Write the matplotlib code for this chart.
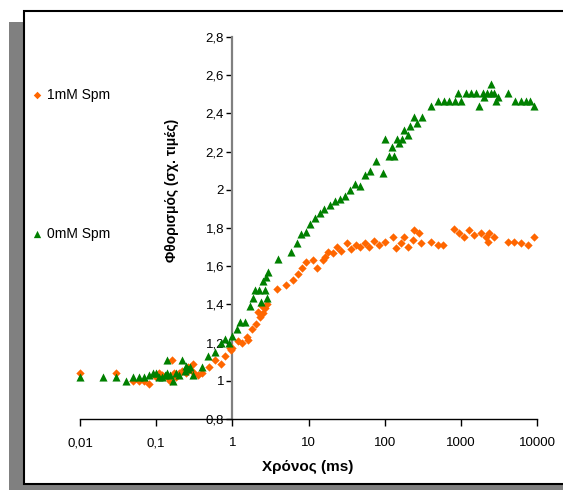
import matplotlib
matplotlib.use("Agg")
import matplotlib.pyplot as plt
from matplotlib.patches import Rectangle
from matplotlib.ticker import FixedLocator, FixedFormatter, NullLocator

plt.rcParams['font.family'] = ['Liberation Sans', 'DejaVu Sans']

# ---- data ----
# 1mM Spm (orange diamonds)
x_1mM = [0.01, 0.03, 0.05, 0.06, 0.07, 0.08, 0.1, 0.11, 0.12, 0.14, 0.15, 0.16,
         0.17, 0.18, 0.2, 0.22, 0.25, 0.26, 0.28, 0.3, 0.31, 0.35, 0.4, 0.5,
         0.6, 0.72, 0.81, 0.94, 0.97, 1.0, 1.2, 1.35, 1.57, 1.62, 1.83, 2.07,
         2.2, 2.34, 2.48, 2.56, 2.72, 2.89, 3.9, 5.1, 6.2, 7.2, 8.1, 9.4, 11.6,
         13.1, 15.7, 16.7, 18.3, 21, 24, 27, 32, 36, 42, 48, 55, 63, 72, 84,
         102, 127, 140, 163, 178, 200, 233, 240, 280, 297, 403, 498, 580, 809,
         942, 1096, 1274, 1480, 1830, 2130, 2266, 2340, 2717, 4150, 4980,
         6160, 7600, 9120]
y_1mM = [1.04, 1.04, 1.0, 1.0, 1.0, 0.985, 1.02, 1.04, 1.03, 1.02, 1.0, 1.11,
         1.04, 1.02, 1.04, 1.05, 1.04, 1.07, 1.06, 1.09, 1.04, 1.03, 1.04, 1.07,
         1.11, 1.09, 1.13, 1.17, 1.16, 1.17, 1.21, 1.20, 1.23, 1.215, 1.27, 1.30,
         1.36, 1.335, 1.39, 1.355, 1.38, 1.40, 1.48, 1.50, 1.53, 1.56, 1.59, 1.62,
         1.63, 1.59, 1.63, 1.65, 1.675, 1.67, 1.70, 1.68, 1.72, 1.69, 1.71, 1.70,
         1.72, 1.70, 1.73, 1.71, 1.728, 1.754, 1.696, 1.72, 1.754, 1.70, 1.738,
         1.79, 1.775, 1.72, 1.728, 1.71, 1.71, 1.796, 1.775, 1.754, 1.79, 1.764,
         1.775, 1.754, 1.728, 1.775, 1.754, 1.728, 1.728, 1.72, 1.71, 1.754]

# 0mM Spm (green triangles)
x_0mM = [0.01, 0.02, 0.03, 0.04, 0.05, 0.06, 0.07, 0.08, 0.09, 0.1, 0.11, 0.12,
         0.13, 0.14, 0.14, 0.15, 0.167, 0.18, 0.2, 0.22, 0.24, 0.25, 0.26, 0.28,
         0.3, 0.40, 0.48, 0.6, 0.72, 0.81, 0.91, 1.0, 1.16, 1.27, 1.48, 1.72,
         1.89, 2.0, 2.27, 2.41, 2.56, 2.72, 2.8, 2.89, 2.98, 4.03, 5.97, 7.0, 8.0,
         9.2, 10.5, 12, 14, 16, 19, 22, 26, 30, 35, 41, 48, 56, 65, 76, 94, 102,
         113, 123, 131, 144, 153, 167, 178, 200, 213, 240, 264, 307, 403, 498,
         597, 694, 834, 912, 1000, 1163, 1352, 1574, 1726, 1950, 2000, 2200,
         2480, 2480, 2720, 2890, 3070, 4150, 5130, 6160, 7160, 8090, 9120]
y_0mM = [1.02, 1.02, 1.02, 1.0, 1.02, 1.02, 1.02, 1.03, 1.04, 1.04, 1.02, 1.02,
         1.03, 1.11, 1.04, 1.03, 1.0, 1.04, 1.03, 1.11, 1.05, 1.08, 1.06, 1.07,
         1.03, 1.07, 1.13, 1.15, 1.20, 1.22, 1.20, 1.235, 1.27, 1.31, 1.31, 1.39,
         1.435, 1.475, 1.475, 1.41, 1.52, 1.475, 1.545, 1.435, 1.57, 1.64, 1.675,
         1.72, 1.77, 1.78, 1.82, 1.85, 1.88, 1.90, 1.92, 1.94, 1.95, 1.97, 2.0,
         2.03, 2.02, 2.08, 2.10, 2.15, 2.09, 2.267, 2.178, 2.225, 2.178, 2.267,
         2.246, 2.267, 2.314, 2.288, 2.335, 2.382, 2.35, 2.382, 2.44, 2.466,
         2.466, 2.466, 2.466, 2.508, 2.466, 2.508, 2.508, 2.508, 2.44, 2.508,
         2.487, 2.508, 2.555, 2.508, 2.508, 2.466, 2.487, 2.508, 2.466, 2.466,
         2.466, 2.466, 2.44]

x_ticks = [0.01, 0.1, 1, 10, 100, 1000, 10000]
x_tick_labels = ['0,01', '0,1', '1', '10', '100', '1000', '10000']
y_ticks = [0.8, 1.0, 1.2, 1.4, 1.6, 1.8, 2.0, 2.2, 2.4, 2.6, 2.8]
y_tick_labels = ['0,8', '1', '1,2', '1,4', '1,6', '1,8', '2', '2,2', '2,4', '2,6', '2,8']

W, H = 563, 490
fig = plt.figure(figsize=(W / 100, H / 100), dpi=100)

def fx(px):
    return px / W

def fy(py):
    return 1 - py / H

# shadow + frame
fig.patches.append(Rectangle((fx(9), fy(490)), fx(600) - fx(9), fy(22) - fy(490),
                             transform=fig.transFigure, facecolor='#808080',
                             edgecolor='none', zorder=-3))
fig.patches.append(Rectangle((fx(24), fy(484)), fx(620) - fx(24), fy(11) - fy(484),
                             transform=fig.transFigure, facecolor='white',
                             edgecolor='black', linewidth=1.5, zorder=-2))

ax = fig.add_axes([fx(80), fy(419), fx(537) - fx(80), fy(37) - fy(419)])
ax.set_zorder(2)
ax.set_facecolor('none')
ax.set_xscale('log')
ax.set_xlim(0.01, 10000)
ax.set_ylim(0.8, 2.8)

ax.scatter(x_1mM, y_1mM, marker='D', s=18, color='#FF6600', linewidths=0,
           label='1mM Spm', zorder=3, clip_on=False)
ax.scatter(x_0mM, y_0mM, marker='^', s=34, color='#008000', linewidths=0,
           label='0mM Spm', zorder=3, clip_on=False)

for s in ['top', 'right']:
    ax.spines[s].set_visible(False)
ax.spines['left'].set_position(('data', 1))
ax.spines['left'].set_color('#808080')
ax.spines['left'].set_linewidth(1.6)
ax.spines['bottom'].set_color('black')
ax.spines['bottom'].set_linewidth(1.0)

ax.xaxis.set_major_locator(FixedLocator(x_ticks))
ax.xaxis.set_major_formatter(FixedFormatter(x_tick_labels))
ax.xaxis.set_minor_locator(NullLocator())
ax.yaxis.set_major_locator(FixedLocator(y_ticks))
ax.yaxis.set_major_formatter(FixedFormatter(y_tick_labels))

ax.tick_params(axis='x', direction='out', length=5, width=1, color='black',
               labelsize=9.5, pad=8)
ax.tick_params(axis='y', direction='out', length=4, width=1, color='black',
               labelsize=9.5, pad=2)

fig.text(fx(308), fy(467), 'Χρόνος (ms)', ha='center', va='center',
         fontsize=11, fontweight='bold', zorder=5)
fig.text(fx(172), fy(190), 'Φθορισμός (σχ. τιμές)', ha='center', va='center',
         rotation=90, fontsize=10, fontweight='bold', zorder=5)

leg = fig.legend(loc='upper left', bbox_to_anchor=(fx(29), fy(88)),
                 frameon=False, fontsize=10, labelspacing=9.0,
                 handletextpad=0.1, handlelength=1.2, borderaxespad=0,
                 borderpad=0, markerscale=0.9)
leg.set_zorder(5)

fig.savefig('out.png', dpi=100)
